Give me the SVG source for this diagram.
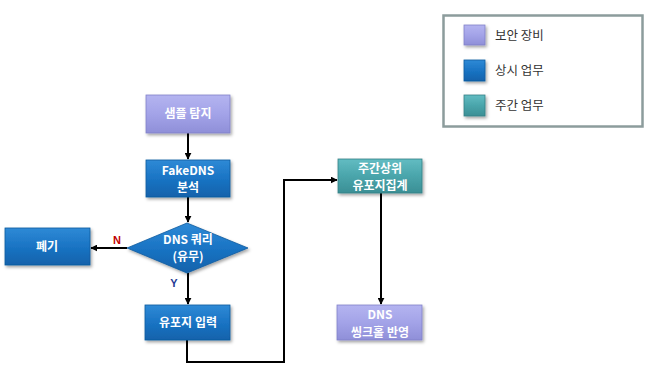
<svg xmlns="http://www.w3.org/2000/svg" width="650" height="369" viewBox="0 0 650 369">
<defs>
<linearGradient id="gLav" x1="0" y1="0" x2="0" y2="1"><stop offset="0" stop-color="#b4b4f0"/><stop offset="0.5" stop-color="#a3a3e8"/><stop offset="1" stop-color="#8f8fd8"/></linearGradient>
<linearGradient id="gBlue" x1="0" y1="0" x2="0" y2="1"><stop offset="0" stop-color="#2f8ad6"/><stop offset="0.5" stop-color="#1a74c4"/><stop offset="1" stop-color="#1262ab"/></linearGradient>
<linearGradient id="gTeal" x1="0" y1="0" x2="0" y2="1"><stop offset="0" stop-color="#62bcc2"/><stop offset="0.5" stop-color="#4aa5ab"/><stop offset="1" stop-color="#3b8f95"/></linearGradient>
<filter id="sh" x="-20%" y="-20%" width="150%" height="160%"><feDropShadow dx="1.5" dy="2" stdDeviation="1.5" flood-color="#000" flood-opacity="0.35"/></filter>
<marker id="arr" viewBox="0 0 10 10" refX="9" refY="5" markerWidth="7" markerHeight="7" orient="auto" markerUnits="userSpaceOnUse"><path d="M0,0 L10,5 L0,10 z" fill="#000"/></marker>
</defs>
<style>
.t{font-family:"Noto Sans CJK KR","Noto Sans",sans-serif;font-size:12px;font-weight:bold;fill:#fff;text-anchor:middle}
.lt{font-family:"Noto Sans CJK KR","Noto Sans",sans-serif;font-size:12.5px;fill:#333}
.c{fill:none;stroke:#000;stroke-width:2}
.lav{fill:url(#gLav);stroke:#8080c8;stroke-width:0.8}
.blue{fill:url(#gBlue);stroke:#0f5a9e;stroke-width:0.8}
.teal{fill:url(#gTeal);stroke:#347f85;stroke-width:0.8}
</style>
<rect width="650" height="369" fill="#fff"/>
<g id="legend">
<rect x="443.5" y="15.5" width="199" height="111" fill="#fff" stroke="#8c9c9c" stroke-width="2.5"/>
<rect x="464" y="25" width="21" height="20" class="lav" filter="url(#sh)"/>
<text x="495" y="40" class="lt">보안 장비</text>
<rect x="464" y="60" width="21" height="21" class="blue" filter="url(#sh)"/>
<text x="495" y="75" class="lt">상시 업무</text>
<rect x="464" y="95" width="21" height="21" class="teal" filter="url(#sh)"/>
<text x="495" y="110" class="lt">주간 업무</text>
</g>
<g id="connectors">
<line x1="188" y1="133" x2="188" y2="159" class="c" marker-end="url(#arr)"/>
<line x1="188" y1="197" x2="188" y2="222" class="c" marker-end="url(#arr)"/>
<line x1="127" y1="248" x2="91" y2="248" class="c" marker-end="url(#arr)"/>
<line x1="188" y1="273" x2="188" y2="304" class="c" marker-end="url(#arr)"/>
<polyline points="187,340 187,362 284,362 284,180 337,180" class="c" marker-end="url(#arr)"/>
<line x1="381" y1="193" x2="381" y2="304" class="c" marker-end="url(#arr)"/>
<text x="117" y="244" font-family="Liberation Sans,Arial,sans-serif" font-size="11" font-weight="bold" fill="#c00000" text-anchor="middle">N</text>
<text x="174" y="287" font-family="Liberation Sans,Arial,sans-serif" font-size="11" font-weight="bold" fill="#1f3a93" text-anchor="middle">Y</text>
</g>
<g id="n-sample">
<rect x="146" y="95" width="84" height="38" class="lav" filter="url(#sh)"/>
<text x="188" y="118" class="t">샘플 탐지</text>
</g>
<g id="n-fakedns">
<rect x="146" y="160" width="84" height="37" class="blue" filter="url(#sh)"/>
<text x="188" y="174.5" class="t">FakeDNS</text>
<text x="188" y="192" class="t">분석</text>
</g>
<g id="n-query">
<polygon points="187,223 248,248 187,273 127,248" class="blue" filter="url(#sh)"/>
<text x="188" y="244" class="t" font-size="11">DNS 쿼리</text>
<text x="188" y="260.5" class="t" font-size="11">(유무)</text>
</g>
<g id="n-discard">
<rect x="5" y="228" width="85" height="37" class="blue" filter="url(#sh)"/>
<text x="47" y="251" class="t">폐기</text>
</g>
<g id="n-input">
<rect x="145" y="305" width="85" height="35" class="blue" filter="url(#sh)"/>
<text x="188" y="327" class="t">유포지 입력</text>
</g>
<g id="n-weekly">
<rect x="338" y="159" width="84" height="34" class="teal" filter="url(#sh)"/>
<text x="380" y="172.5" class="t">주간상위</text>
<text x="380" y="190" class="t">유포지집계</text>
</g>
<g id="n-sinkhole">
<rect x="337" y="305" width="85" height="35" class="lav" filter="url(#sh)"/>
<text x="380" y="319" class="t">DNS</text>
<text x="380" y="336.5" class="t">씽크홀 반영</text>
</g>
</svg>
